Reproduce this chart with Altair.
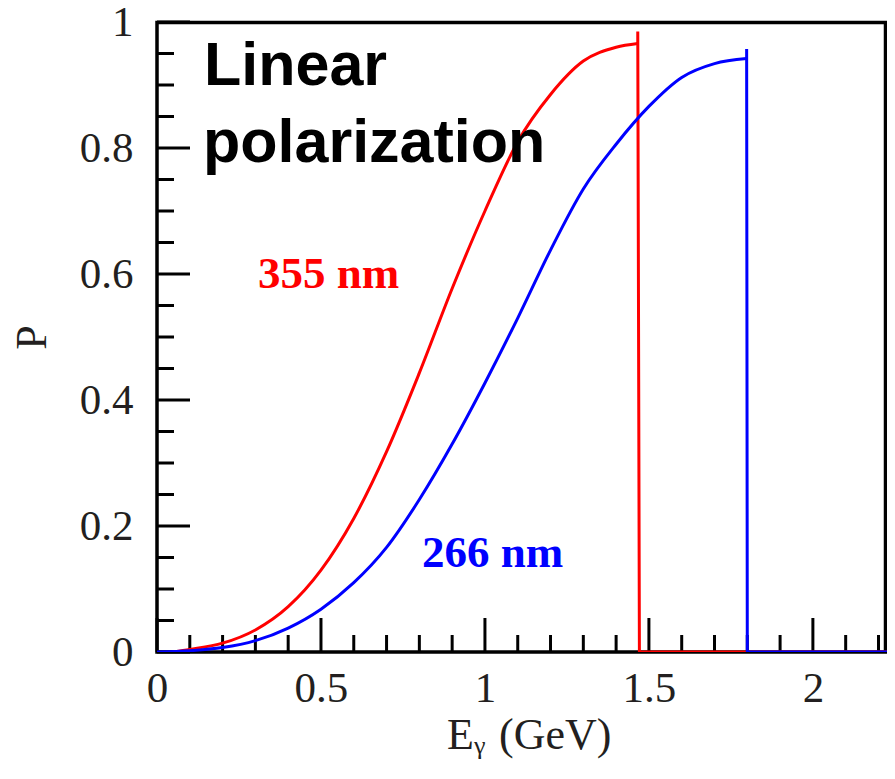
import altair as alt
import pandas as pd

# ---- data ----
# smooth part of each curve (up to the cutoff), then the spike / drop / zero tail
red_E = [0.05, 0.10, 0.20, 0.30, 0.40, 0.50, 0.60, 0.70, 0.80, 0.90, 1.00, 1.10, 1.20,
         1.30, 1.40, 1.466]
red_P = [0.0, 0.004, 0.014, 0.035, 0.072, 0.13, 0.212, 0.318, 0.443, 0.577, 0.70, 0.81, 0.885,
         0.938, 0.960, 0.966]
red_tail_E = [1.466, 1.466, 1.471, 2.25]
red_tail_P = [0.966, 0.985, 0.0, 0.0]

blue_E = [0.0, 0.10, 0.20, 0.30, 0.40, 0.50, 0.60, 0.70, 0.80, 0.90, 1.00, 1.10, 1.20, 1.30,
          1.40, 1.50, 1.60, 1.70, 1.798]
blue_P = [0.0, 0.002, 0.007, 0.018, 0.038, 0.068, 0.11, 0.166, 0.242, 0.33, 0.427, 0.53, 0.638,
          0.735, 0.806, 0.866, 0.912, 0.934, 0.942]
blue_tail_E = [1.798, 1.798, 1.80, 2.25]
blue_tail_P = [0.942, 0.957, 0.0, 0.0]

x_major = [0, 0.5, 1, 1.5, 2]
x_minor = [0.1, 0.2, 0.3, 0.4, 0.6, 0.7, 0.8, 0.9, 1.1, 1.2, 1.3, 1.4, 1.6, 1.7, 1.8, 1.9,
           2.1, 2.2]
y_major = [0, 0.2, 0.4, 0.6, 0.8, 1]
y_minor = [0.05, 0.1, 0.15, 0.25, 0.3, 0.35, 0.45, 0.5, 0.55, 0.65, 0.7, 0.75, 0.85, 0.9, 0.95]

label_355 = "355 nm"
label_266 = "266 nm"
title_lines = ["Linear", "polarization"]

W, H = 730, 630
SERIF = "Liberation Serif"
SANS = "Liberation Sans"
INK = "#231f20"

xs = alt.Scale(domain=[0, 2.226], nice=False, zero=False)
ys = alt.Scale(domain=[0, 1], nice=False)

x_axis = alt.Axis(values=x_major, ticks=False, domain=False, grid=False, format="~g",
                  labelFont=SERIF, labelFontSize=43, labelColor=INK, labelPadding=15,
                  labelFlush=False, title=None)
y_axis = alt.Axis(values=y_major, ticks=False, domain=False, grid=False, format="~g",
                  labelFont=SERIF, labelFontSize=43, labelColor=INK, labelPadding=24,
                  title="P", titleFont=SERIF, titleFontSize=44, titleFontWeight="normal",
                  titleColor=INK, titleX=-125, titleY=315, titleAlign="center",
                  titleBaseline="middle")

one = pd.DataFrame({"a": [0]})

frame = alt.Chart(one).mark_rect(
    fill="white", fillOpacity=0, stroke="black", strokeWidth=3.5
).encode(x=alt.value(0), x2=alt.value(W - 1.5), y=alt.value(0.5), y2=alt.value(H))

xmaj = alt.Chart(pd.DataFrame({"v": x_major})).mark_rule(color="black", strokeWidth=3).encode(
    x=alt.X("v:Q", scale=xs, axis=x_axis), y=alt.value(H), y2=alt.value(H - 34))
xmin = alt.Chart(pd.DataFrame({"v": x_minor})).mark_rule(color="black", strokeWidth=3).encode(
    x=alt.X("v:Q", scale=xs), y=alt.value(H), y2=alt.value(H - 17))
ymaj = alt.Chart(pd.DataFrame({"v": y_major})).mark_rule(color="black", strokeWidth=3).encode(
    y=alt.Y("v:Q", scale=ys, axis=y_axis), x=alt.value(0), x2=alt.value(33))
ymin = alt.Chart(pd.DataFrame({"v": y_minor})).mark_rule(color="black", strokeWidth=3).encode(
    y=alt.Y("v:Q", scale=ys), x=alt.value(0), x2=alt.value(17))


def curve(E, P, color, interp):
    df = pd.DataFrame({"E": E, "P": P, "i": range(len(E))})
    return alt.Chart(df).mark_line(color=color, strokeWidth=3, interpolate=interp,
                                   clip=True).encode(
        x=alt.X("E:Q", scale=xs), y=alt.Y("P:Q", scale=ys), order="i:Q")


red_line = curve(red_E, red_P, "#ff0000", "monotone")
red_tail = curve(red_tail_E, red_tail_P, "#ff0000", "linear")
blue_line = curve(blue_E, blue_P, "#0000ff", "monotone")
blue_tail = curve(blue_tail_E, blue_tail_P, "#0000ff", "linear")


def txt(s, x, y, size, color, font, weight="bold", align="left"):
    return alt.Chart(one).mark_text(
        text=s, font=font, fontSize=size, fontWeight=weight, color=color,
        align=align, baseline="alphabetic"
    ).encode(x=alt.value(x), y=alt.value(y))


t1 = txt(title_lines[0], 47, 63, 61, "black", SANS)
t2 = txt(title_lines[1], 46, 140, 61, "black", SANS)
t355 = txt(label_355, 101, 266, 45, "#ff0000", SERIF)
t266 = txt(label_266, 265, 545, 45, "#0000ff", SERIF)
xt1 = txt("E", 290, 727, 44, INK, SERIF, weight="normal")
xt2 = txt("γ", 317, 732, 26, INK, SERIF, weight="normal")
xt3 = txt("(GeV)", 342, 727, 44, INK, SERIF, weight="normal")

chart = alt.layer(
    xmaj, xmin, ymaj, ymin, frame,
    red_line, red_tail, blue_line, blue_tail,
    t1, t2, t355, t266, xt1, xt2, xt3
).properties(
    width=W, height=H,
    autosize=alt.AutoSizeParams(type="none"),
    padding={"left": 149, "top": 14, "right": 0, "bottom": 110},
).configure(
    background="white",
    view=alt.ViewConfig(strokeWidth=0),
)

chart.save("out.html", embed_options={"renderer": "svg", "actions": False})
